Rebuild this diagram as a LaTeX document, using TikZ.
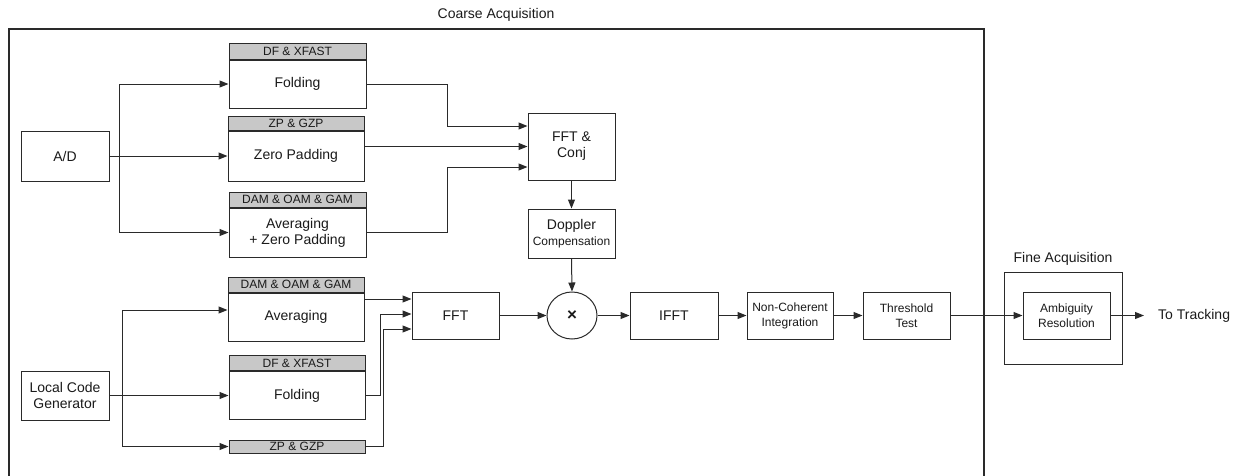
\documentclass[tikz,border=0pt]{standalone}
\usepackage{fontspec}
\setmainfont{Liberation Sans}
\usetikzlibrary{arrows.meta,calc,shapes.geometric}
\definecolor{linec}{HTML}{2A2A2A}
\definecolor{textc}{HTML}{1A1A1A}
\definecolor{hdrc}{HTML}{C8C8C8}
\newcommand{\labelfont}{\fontsize{14}{16}\selectfont}
\newcommand{\tagfont}{\fontsize{12}{14}\selectfont}
\newcommand{\smallfont}{\fontsize{12}{15}\selectfont}
\begin{document}
\begin{tikzpicture}[x=1pt,y=-1pt,
  line/.style={draw=linec, line width=1pt},
  arr/.style={line, -{Triangle[length=9pt,width=7pt]}},
  blk/.style={draw=linec, line width=1pt, fill=white, inner sep=0pt,
    align=center, font=\labelfont, text=textc},
  hdr/.style={blk, fill=hdrc, font=\tagfont},
  lbl/.style={inner sep=0pt, font=\labelfont, text=textc}]
\useasboundingbox (0,0) rectangle (1243,475);

% outer frame of the coarse stage (open at the bottom)
\draw[draw=linec, line width=1.1pt] (9,480) -- (9,29) -- (984,29) -- (984,480);
\node[lbl] (coarse) at (496,15) {Coarse Acquisition};

% input branch
\node[blk, minimum width=137, minimum height=48] (fold1) at (297.5,84) {Folding};
\node[blk, minimum width=88, minimum height=50] (ad) at (65,156) {A/D};
\node[hdr, minimum width=137, minimum height=16, anchor=south] (fold1h) at (fold1.north) {DF \& XFAST};
\node[blk, minimum width=136, minimum height=50] (zp1) at (296,156) {Zero Padding};
\node[hdr, minimum width=136, minimum height=14, anchor=south] (zp1h) at (zp1.north) {ZP \& GZP};
\node[blk, minimum width=137, minimum height=49] (avg1) at (297.5,232.5) {Averaging\\+ Zero Padding};
\node[hdr, minimum width=137, minimum height=15, anchor=south] (avg1h) at (avg1.north) {DAM \& OAM \& GAM};

\node[blk, minimum width=87, minimum height=67] (fftc) at (571.5,146.5) {FFT \&\\Conj};
\node[blk, minimum width=87, minimum height=49] (dop) at (571.5,233.5) {Doppler\\{\smallfont Compensation}};

% local code branch
\node[blk, minimum width=88, minimum height=49] (lcg) at (65,395.5) {Local Code\\Generator};
\node[blk, minimum width=136, minimum height=48] (avg2) at (296,317) {Averaging};
\node[hdr, minimum width=136, minimum height=15, anchor=south] (avg2h) at (avg2.north) {DAM \& OAM \& GAM};
\node[blk, minimum width=136, minimum height=48] (fold2) at (297,395.5) {Folding};
\node[hdr, minimum width=136, minimum height=15, anchor=south] (fold2h) at (fold2.north) {DF \& XFAST};
\node[hdr, minimum width=136, minimum height=13] (zp2) at (297,446.5) {ZP \& GZP};

% main processing chain
\node[blk, minimum width=87, minimum height=47] (fft) at (455.5,315.5) {FFT};
\node[blk, ellipse, minimum width=50, minimum height=47] (mul) at (572,315.5) {\fontsize{17}{17}\selectfont\bfseries ×};
\node[blk, minimum width=88, minimum height=47] (ifft) at (674,315.5) {IFFT};
\node[blk, minimum width=86, minimum height=47, font=\smallfont] (nci) at (790,315.5) {Non-Coherent\\Integration};
\node[blk, minimum width=87, minimum height=47, font=\smallfont] (thr) at (906.5,315.5) {Threshold\\Test};

% fine stage
\node[draw=linec, line width=1pt, minimum width=118, minimum height=92, inner sep=0pt] (fine) at (1063,318) {};
\node[lbl, anchor=south] (finel) at ([yshift=6pt]fine.north) {Fine Acquisition};
\node[blk, minimum width=87, minimum height=47, font=\smallfont] (amb) at (1066.5,315.5) {Ambiguity\\Resolution};
\node[lbl, anchor=west] (trk) at (1158,315.5) {To Tracking};

% routing points
\coordinate (s1) at (119,156);
\coordinate (j1) at (447,0);
\coordinate (s2) at (122,0);
\coordinate (j2) at (380,0);
\coordinate (j3) at (383,0);
\coordinate (c1) at ([yshift=20.5pt]fftc.west);
\coordinate (c3) at ([yshift=-20.5pt]fftc.west);
\coordinate (f1) at ([yshift=16.5pt]fft.west);
\coordinate (f2) at ([yshift=1.5pt]fft.west);
\coordinate (f3) at ([yshift=-13.5pt]fft.west);
\coordinate (a2in) at ([yshift=7pt]avg2.west);

% input branch connectors
\draw[arr] (ad.east) -- (zp1.west);
\draw[arr] (s1) |- (fold1.west);
\draw[arr] (s1) |- (avg1.west);
\draw[arr] (fold1.east) -- (fold1.east -| j1) |- (c1);
\draw[arr] (zp1.east |- fftc.west) -- (fftc.west);
\draw[arr] (avg1.east) -- (avg1.east -| j1) |- (c3);
\draw[arr] (fftc.south) -- (dop.north);
\draw[arr] (dop.south) -- (mul.north);

% local code connectors
\draw[arr] (lcg.east) -- (fold2.west);
\draw[arr] (lcg.east -| s2) |- (a2in);
\draw[arr] (lcg.east -| s2) |- (zp2.west);
\draw[arr] (f1 -| avg2.east) -- (f1);
\draw[arr] (fold2.east) -- (fold2.east -| j2) |- (f2);
\draw[arr] (zp2.east) -- (zp2.east -| j3) |- (f3);

% main chain connectors
\draw[arr] (fft.east) -- (mul.west);
\draw[arr] (mul.east) -- (ifft.west);
\draw[arr] (ifft.east) -- (nci.west);
\draw[arr] (nci.east) -- (thr.west);
\draw[arr] (thr.east) -- (amb.west);
\draw[arr] (amb.east) -- ([xshift=-14pt]trk.west);
\end{tikzpicture}
\end{document}
